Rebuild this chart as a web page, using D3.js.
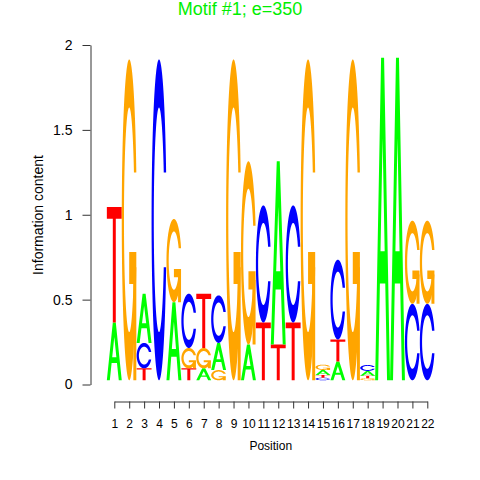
<!DOCTYPE html>
<html>
<head>
<meta charset="utf-8">
<script src="https://cdn.jsdelivr.net/npm/d3@7"></script>
<style>
body{margin:0;background:#fff;}
text{font-family:"Liberation Sans",Arial,Helvetica,sans-serif;}
</style>
</head>
<body>
<div id="plot"></div>
<script>
//Data: information content (bits) of each base at each position
var positions = [1,2,3,4,5,6,7,8,9,10,11,12,13,14,15,16,17,18,19,20,21,22];
var bitsA = [0.34,0,0.29,0,0.46,0,0.07,0.16,0,0.21,0,1.08,0,0,0.03,0.11,0,0.028,1.9,1.9,0,0];
var bitsC = [0,0,0.15,1.89,0,0.32,0,0.28,0,0,0.69,0,0.69,0,0.015,0.47,0,0.035,0,0,0.45,0.45];
var bitsG = [0,1.89,0,0,0.49,0.12,0.12,0.06,1.89,1.08,0,0,0,1.89,0.031,0,1.89,0.012,0,0,0.49,0.49];
var bitsT = [0.68,0,0.07,0,0,0.07,0.32,0,0,0,0.34,0.21,0.34,0,0.016,0.13,0,0.015,0,0,0,0];
var yTicks = [0,0.5,1,1.5,2];
var stackBase = 0.025;

var colors = {A:'#00ff00', C:'#0000ff', G:'#ffa500', T:'#ff0000'};

var width = 480, height = 480;

var svg = d3.select('#plot')
	.append('svg')
	.attr('width',width)
	.attr('height',height);

var x = d3.scaleLinear().domain([1,22]).range([114.3,427.3]);
var y = d3.scaleLinear().domain([0,2]).range([384.5,45]);

//Letter outlines in a unit box (0..1), y up
function arc(a0,a1,r){
	return d3.range(100).map(function(k){
		var a = a0+(a1-a0)*k/99;
		return [0.5+r*Math.sin(a), 0.5+r*Math.cos(a)];
	});
}
function ringPoints(){
	var l1 = arc(0.3+Math.PI/2,Math.PI,0.5),
		l2 = arc(Math.PI,1.5*Math.PI,0.5);
	var topY = d3.max(l1,function(p){return p[1];});
	var i1 = arc(0.3+Math.PI/2,Math.PI,0.35).filter(function(p){return p[1]<=topY;});
	i1[0] = [i1[0][0],topY];
	var i2 = arc(Math.PI,1.5*Math.PI,0.35);
	var outer = l1.concat(l2), inner = i1.concat(i2);
	var o = outer.concat(outer.slice().reverse().map(function(p){return [p[0],1-p[1]];}));
	var inn = inner.concat(inner.slice().reverse().map(function(p){return [p[0],1-p[1]];}));
	return {pts:o.concat(inn.reverse()), r1:d3.max(l1,function(p){return p[0];})};
}
var ring = ringPoints();
var glyphs = {
	A:[[[0,0],[0.4,1],[0.6,1],[1,0],[0.8,0],[0.68,0.3],[0.32,0.3],[0.2,0]],
		[[0.36,0.4],[0.5,0.75],[0.64,0.4]]],
	T:[[[0,1],[1,1],[1,0.9],[0.6,0.9],[0.6,0],[0.4,0],[0.4,0.9],[0,0.9]]],
	C:[ring.pts],
	G:[ring.pts,[[ring.r1,0.4],[0.5,0.4],[0.5,0.3],[ring.r1-0.2,0.3],[ring.r1-0.2,0],[ring.r1,0]]]
};

//Build stacks, smallest letter at bottom
var bits = {A:bitsA, C:bitsC, G:bitsG, T:bitsT};
var letters = [];
positions.forEach(function(p,i){
	var col = ['A','C','G','T'].map(function(b){return {base:b, h:bits[b][i], pos:p};})
		.filter(function(d){return d.h>0;})
		.sort(function(a,b){return a.h-b.h;});
	var acc = stackBase;
	col.forEach(function(d){
		d.y0 = acc; acc += d.h; d.y1 = acc;
		letters.push(d);
	});
});

svg.append('g').attr('class','logo')
	.selectAll('g')
	.data(letters)
	.enter()
	.append('g')
	.each(function(d){
		var x0 = x(d.pos-0.5), w = x(d.pos+0.5)-x0;
		var g = d3.select(this);
		var paths = glyphs[d.base];
		var toPath = function(pts){
			return 'M'+pts.map(function(p){
				return (x0+w*p[0]).toFixed(2)+','+y(d.y0+(d.y1-d.y0)*p[1]).toFixed(2);
			}).join('L')+'Z';
		};
		if(d.base=='A'){
			g.append('path').attr('d',paths.map(toPath).join(''))
				.attr('fill-rule','evenodd').style('fill',colors.A);
		} else {
			paths.forEach(function(pts){
				g.append('path').attr('d',toPath(pts)).style('fill',colors[d.base]);
			});
		}
	});

//Axes
var yAxis = svg.append('g')
	.attr('transform','translate(90.5,0)')
	.call(d3.axisLeft(y).tickValues(yTicks).tickFormat(d3.format('')).tickSize(8).tickSizeOuter(0).tickPadding(10));
yAxis.selectAll('text').style('font-size','14px').style('fill','#000');

var xAxis = svg.append('g')
	.attr('transform','translate(0,401.5)')
	.call(d3.axisBottom(x).tickValues(positions).tickSize(7).tickSizeOuter(0).tickPadding(11));
xAxis.selectAll('text').style('font-size','12px').style('fill','#000');

svg.selectAll('.domain, .tick line').style('stroke','#333');

svg.append('text')
	.attr('x',240).attr('y',15)
	.attr('text-anchor','middle')
	.style('font-size','18px')
	.style('fill','#00ee00')
	.text('Motif #1; e=350');

svg.append('text')
	.attr('transform','translate(43,215) rotate(-90)')
	.attr('text-anchor','middle')
	.style('font-size','14px')
	.text('Information content');

svg.append('text')
	.attr('x',270.8).attr('y',450)
	.attr('text-anchor','middle')
	.style('font-size','12px')
	.text('Position');
</script>
</body>
</html>
